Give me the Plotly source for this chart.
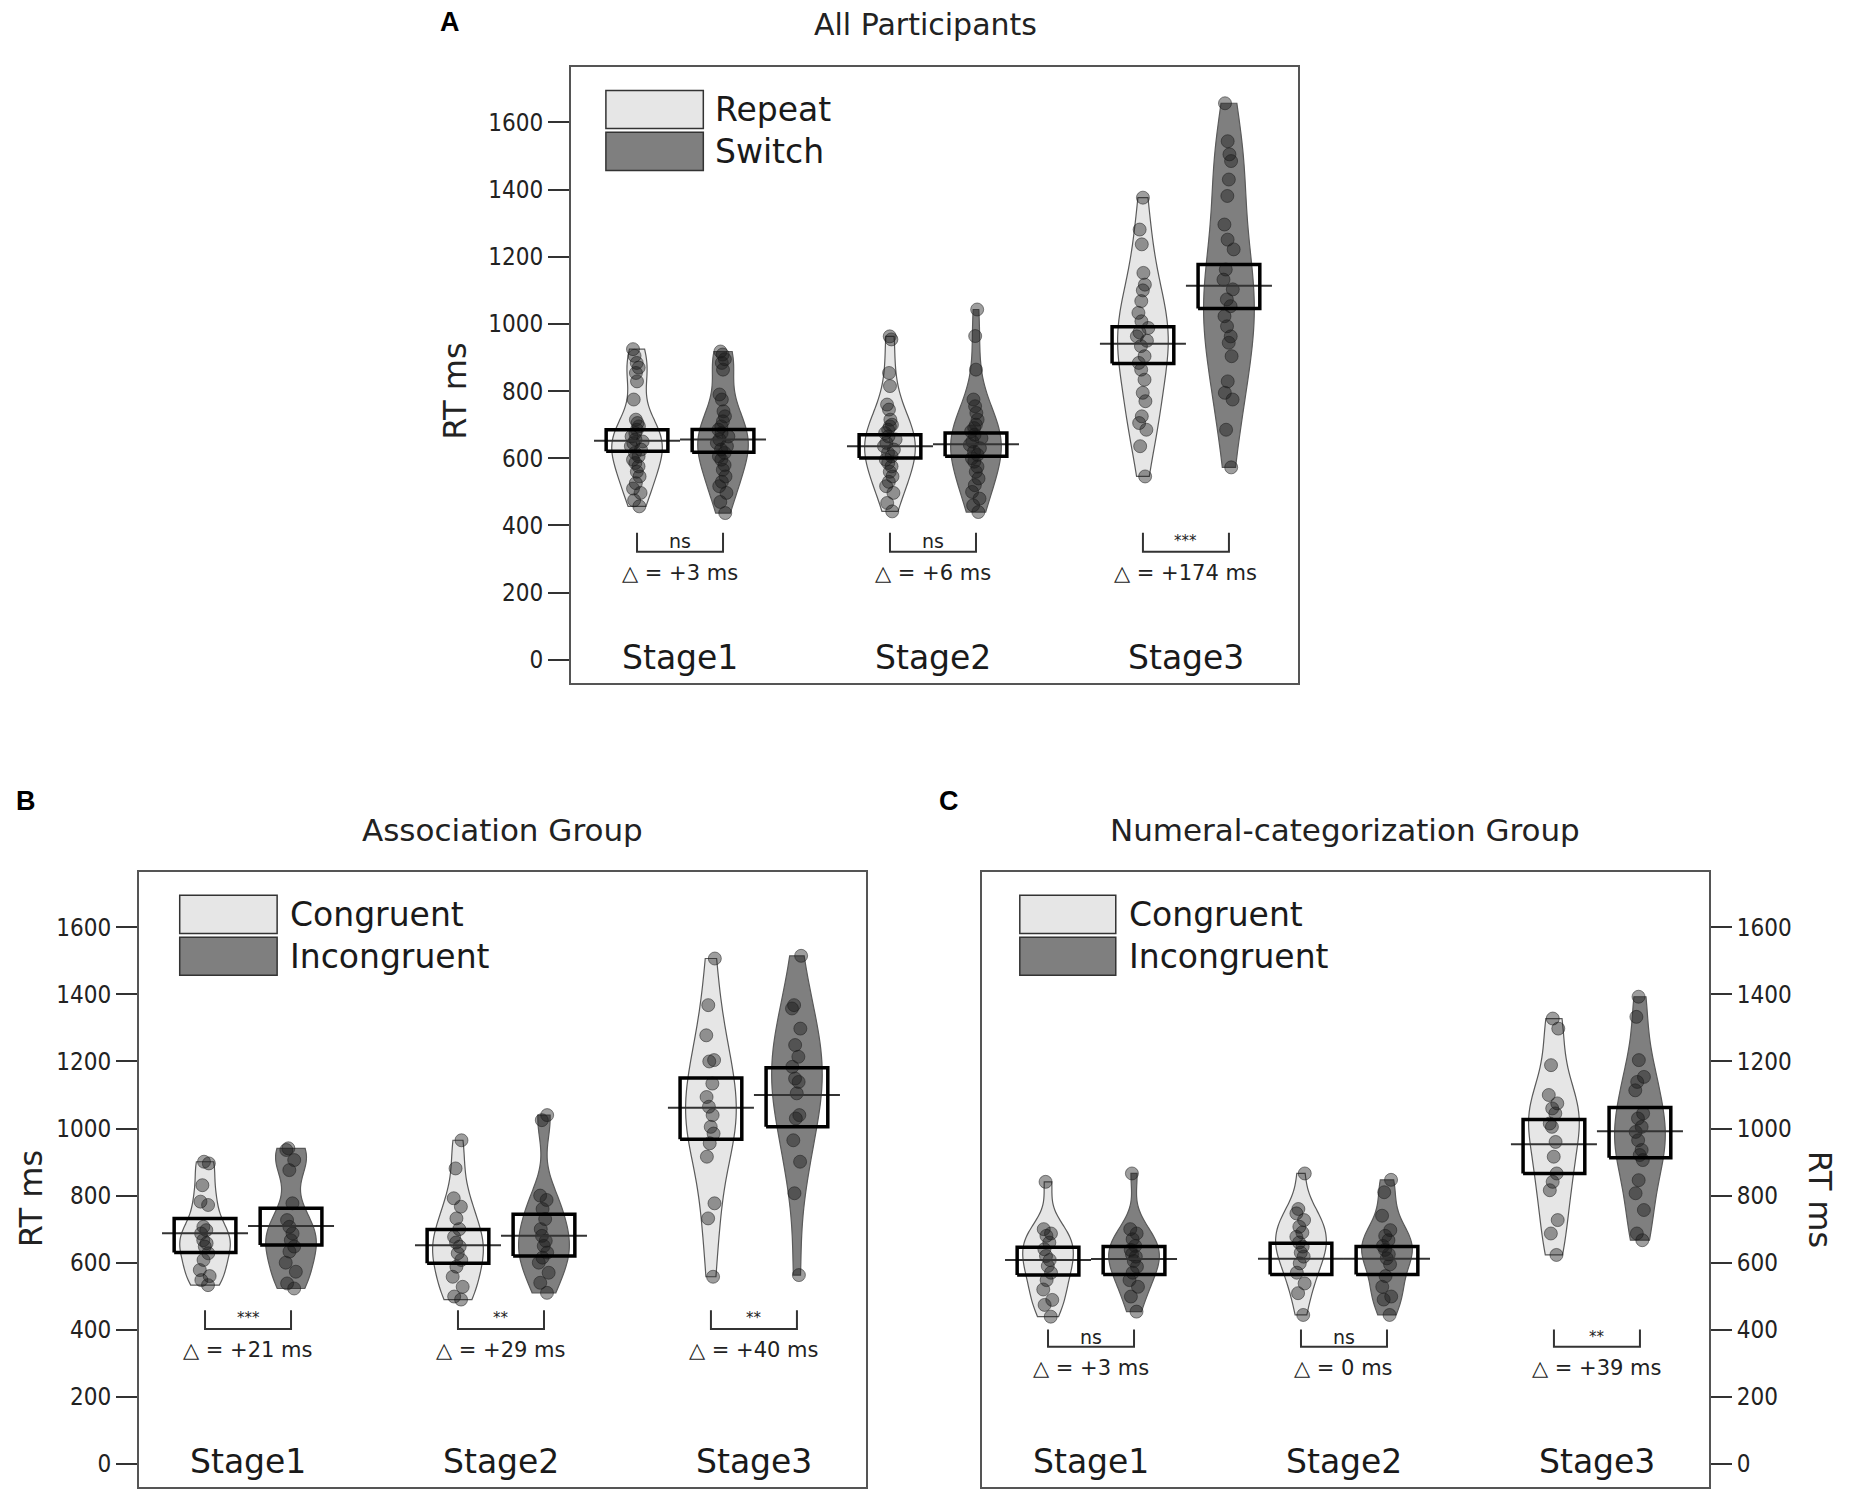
import plotly.graph_objects as go

stages = ["Stage1", "Stage2", "Stage3"]

# ---- Panel A: All Participants (Repeat vs Switch) ----
a_repeat = [
    [925, 905, 884, 870, 854, 829, 775, 715, 705, 695, 685, 675, 665, 656, 650, 645, 636,
     626, 616, 606, 596, 586, 576, 560, 546, 526, 510, 497, 475, 457],
    [963, 954, 854, 815, 760, 745, 715, 700, 695, 685, 675, 665, 656, 646, 636, 626, 616,
     606, 596, 586, 576, 560, 546, 530, 517, 497, 467, 442],
    [1376, 1281, 1237, 1152, 1117, 1100, 1068, 1033, 1008, 988, 975, 963, 950, 934, 904,
     884, 864, 834, 795, 770, 725, 705, 685, 636, 546],
]
a_switch = [
    [918, 909, 895, 884, 864, 790, 775, 740, 725, 710, 695, 685, 675, 665, 656, 646, 636,
     626, 616, 606, 596, 580, 566, 546, 530, 517, 497, 470, 437],
    [1043, 964, 864, 775, 755, 735, 715, 700, 690, 680, 670, 660, 650, 640, 630, 620, 610,
     600, 590, 575, 560, 540, 520, 500, 480, 460, 440],
    [1657, 1544, 1505, 1485, 1430, 1381, 1296, 1251, 1222, 1162, 1132, 1103, 1073, 1053,
     1023, 993, 963, 944, 904, 829, 795, 775, 685, 573],
]
a_repeat_mean = [652, 636, 941]
a_repeat_lo = [621, 601, 882]
a_repeat_hi = [685, 670, 992]
a_switch_mean = [656, 642, 1114]
a_switch_lo = [618, 606, 1046]
a_switch_hi = [686, 675, 1177]
a_sig = ["ns", "ns", "***"]
a_delta = ["+3", "+6", "+174"]

# ---- Panel B: Association Group (Congruent vs Incongruent) ----
b_con = [
    [901, 896, 831, 782, 772, 707, 697, 687, 667, 658, 648, 628, 608, 578, 560, 548, 533],
    [965, 881, 792, 767, 732, 700, 677, 660, 648, 628, 608, 588, 558, 528, 499, 490],
    [1507, 1368, 1278, 1204, 1200, 1134, 1094, 1065, 1040, 1005, 985, 956, 916, 777, 732, 558],
]
b_inc = [
    [941, 936, 906, 876, 777, 727, 707, 687, 667, 648, 633, 600, 573, 538, 523],
    [1040, 1025, 800, 787, 760, 730, 700, 680, 665, 650, 630, 615, 600, 570, 540, 510],
    [1515, 1368, 1358, 1298, 1249, 1214, 1184, 1149, 1139, 1105, 1040, 1030, 965, 901, 807, 563],
]
b_con_mean = [688, 652, 1062]
b_con_lo = [630, 598, 968]
b_con_hi = [732, 699, 1151]
b_inc_mean = [709, 680, 1100]
b_inc_lo = [653, 620, 1005]
b_inc_hi = [762, 744, 1181]
b_sig = ["***", "**", "**"]
b_delta = ["+21", "+29", "+40"]

# ---- Panel C: Numeral-categorization Group ----
c_con = [
    [841, 700, 687, 680, 660, 640, 620, 608, 590, 570, 548, 520, 489, 474, 439],
    [866, 760, 747, 727, 707, 690, 677, 660, 648, 630, 618, 598, 570, 538, 509, 444],
    [1328, 1298, 1189, 1100, 1075, 1060, 1045, 1015, 1005, 960, 916, 866, 841, 816, 727, 687, 623],
]
c_inc = [
    [866, 700, 687, 670, 650, 638, 625, 618, 605, 588, 570, 548, 528, 499, 454],
    [847, 810, 740, 697, 680, 667, 650, 638, 625, 613, 595, 560, 528, 499, 490, 444],
    [1393, 1333, 1204, 1154, 1139, 1114, 1045, 1030, 1005, 990, 965, 936, 921, 906, 846,
     807, 757, 687, 667],
]
c_con_mean = [608, 612, 953]
c_con_lo = [563, 565, 866]
c_con_hi = [646, 658, 1027]
c_inc_mean = [611, 612, 992]
c_inc_lo = [565, 565, 913]
c_inc_hi = [648, 648, 1063]
c_sig = ["ns", "ns", "**"]
c_delta = ["+3", "0", "+39"]

LIGHT = "#e6e6e6"
DARK = "#7f7f7f"
FONT = "DejaVu Sans"
OFF = 0.17      # half distance between the two violins of a stage
BOX_W = 0.122   # half width of the CI box
LINE_W = 0.17   # half width of the mean line

# page body adds an 8px margin, so the figure is laid out 16px smaller
W, H = 1837, 1486


def px(o):
    return (o - 8) / W


def py(o):
    return 1 - (o - 8) / H


fig = go.Figure()


def add_group(xa, ya, pos, vals, mean, lo, hi, fill):
    fig.add_trace(go.Violin(
        x=[pos] * len(vals), y=vals, xaxis=xa, yaxis=ya,
        width=0.2, scalemode="width", spanmode="hard",
        bandwidth=0.13 * (max(vals) - min(vals)),
        fillcolor=fill, line=dict(color="#5a5a5a", width=1.2),
        points="all", pointpos=0, jitter=0.25,
        marker=dict(size=13, color="rgba(25,25,25,0.42)",
                    line=dict(color="rgba(25,25,25,0.5)", width=1)),
        showlegend=False, hoverinfo="y",
    ))
    # mean line
    fig.add_trace(go.Scatter(
        x=[pos - LINE_W, pos + LINE_W], y=[mean, mean], xaxis=xa, yaxis=ya,
        mode="lines", line=dict(color="#333333", width=2), showlegend=False, hoverinfo="skip",
    ))
    # confidence box
    fig.add_trace(go.Scatter(
        x=[pos - BOX_W, pos + BOX_W, pos + BOX_W, pos - BOX_W, pos - BOX_W],
        y=[lo, lo, hi, hi, lo], xaxis=xa, yaxis=ya,
        mode="lines", line=dict(color="black", width=3.5), showlegend=False, hoverinfo="skip",
    ))


def draw_panel(xa, ya, left, right, lo_mean, lo_lo, lo_hi, hi_mean, hi_lo, hi_hi,
               sig, delta, br_top, br_bot):
    for i in range(3):
        add_group(xa, ya, i - OFF, left[i], lo_mean[i], lo_lo[i], lo_hi[i], LIGHT)
        add_group(xa, ya, i + OFF, right[i], hi_mean[i], hi_lo[i], hi_hi[i], DARK)
        # significance bracket
        fig.add_trace(go.Scatter(
            x=[i - OFF, i - OFF, i + OFF, i + OFF], y=[br_top, br_bot, br_bot, br_top],
            xaxis=xa, yaxis=ya, mode="lines", line=dict(color="#333333", width=2),
            showlegend=False, hoverinfo="skip",
        ))
        fig.add_annotation(x=i, y=(br_top + br_bot) / 2 + 4, xref=xa, yref=ya, text=sig[i],
                           showarrow=False, xanchor="center", yanchor="middle",
                           font=dict(family=FONT, size=19 if sig[i] == "ns" else 15, color="#222"))
        fig.add_annotation(x=i, y=br_bot - 62, xref=xa, yref=ya,
                           text="\u25b3 = " + delta[i] + " ms",
                           showarrow=False, xanchor="center", yanchor="middle",
                           font=dict(family=FONT, size=21, color="#222"))
        fig.add_annotation(x=i, y=8, xref=xa, yref=ya, text=stages[i], showarrow=False,
                           xanchor="center", yanchor="middle",
                           font=dict(family=FONT, size=33, color="#1a1a1a"))


draw_panel("x", "y", a_repeat, a_switch, a_repeat_mean, a_repeat_lo, a_repeat_hi,
           a_switch_mean, a_switch_lo, a_switch_hi, a_sig, a_delta, 378, 322)
draw_panel("x2", "y2", b_con, b_inc, b_con_mean, b_con_lo, b_con_hi,
           b_inc_mean, b_inc_lo, b_inc_hi, b_sig, b_delta, 458, 402)
draw_panel("x3", "y3", c_con, c_inc, c_con_mean, c_con_lo, c_con_hi,
           c_inc_mean, c_inc_lo, c_inc_hi, c_sig, c_delta, 401, 349)

x_common = dict(range=[-0.431, 2.443], showticklabels=False, ticks="", showgrid=False,
                zeroline=False, showline=True, mirror=True, linecolor="#555555", linewidth=2)
y_common = dict(range=[-69, 1765], tickvals=[0, 200, 400, 600, 800, 1000, 1200, 1400, 1600],
                ticks="outside", ticklen=21, tickwidth=2, tickcolor="#333333",
                tickfont=dict(family="DejaVu Sans Condensed, DejaVu Sans", size=24, color="#222"),
                showgrid=False, zeroline=False, showline=True, mirror=True,
                linecolor="#555555", linewidth=2)

fig.update_layout(
    width=W, height=H,
    margin=dict(l=0, r=0, t=0, b=0),
    paper_bgcolor="white", plot_bgcolor="white",
    violinmode="overlay",
    showlegend=False,
    xaxis=dict(domain=[px(571), px(1298)], anchor="y", **x_common),
    yaxis=dict(domain=[py(683), py(67)], anchor="x", **y_common),
    xaxis2=dict(domain=[px(139), px(866)], anchor="y2", **x_common),
    yaxis2=dict(domain=[py(1487), py(872)], anchor="x2", **y_common),
    xaxis3=dict(domain=[px(982), px(1709)], anchor="y3", **x_common),
    yaxis3=dict(domain=[py(1487), py(872)], anchor="x3", side="right", **y_common),
)

# legends drawn as boxes + labels inside each panel
legend_specs = [
    ("x", "y", 0.048, 0.182, 0.195, ["Repeat", "Switch"]),
    ("x2", "y2", 0.056, 0.190, 0.205, ["Congruent", "Incongruent"]),
    ("x3", "y3", 0.052, 0.184, 0.199, ["Congruent", "Incongruent"]),
]
for xa, ya, x0, x1, xt, labels in legend_specs:
    for k, (lab, col) in enumerate(zip(labels, [LIGHT, DARK])):
        y1 = 0.962 - k * 0.068
        y0 = y1 - 0.062
        fig.add_shape(type="rect", xref=xa + " domain", yref=ya + " domain",
                      x0=x0, x1=x1, y0=y0, y1=y1, fillcolor=col,
                      line=dict(color="#333333", width=1.5))
        fig.add_annotation(xref=xa + " domain", yref=ya + " domain", x=xt, y=(y0 + y1) / 2,
                           text=lab, showarrow=False, xanchor="left", yanchor="middle",
                           font=dict(family=FONT, size=33, color="#1a1a1a"))

# axis titles
rt_specs = [("x", "y", -0.16, 800, -90), ("x2", "y2", -0.148, 790, -90),
            ("x3", "y3", 1.153, 790, 90)]
for xa, ya, tx, ty, ang in rt_specs:
    fig.add_annotation(xref=xa + " domain", yref=ya, x=tx, y=ty, text="RT ms", textangle=ang,
                       showarrow=False, xanchor="center", yanchor="middle",
                       font=dict(family=FONT, size=32, color="#222"))

# panel titles and letters
fig.add_annotation(xref="paper", yref="paper", x=px(925), y=1.0, yshift=3,
                   text="All Participants", showarrow=False, xanchor="center", yanchor="top",
                   font=dict(family=FONT, size=30, color="#222"))
fig.add_annotation(xref="paper", yref="paper", x=px(450), y=1.0, yshift=3, text="<b>A</b>",
                   showarrow=False, xanchor="center", yanchor="top",
                   font=dict(family="Liberation Sans", size=27, color="black"))
titles = [
    (502, 830, "Association Group"),
    (1345, 830, "Numeral-categorization Group"),
]
for tx, ty, t in titles:
    fig.add_annotation(xref="paper", yref="paper", x=px(tx), y=py(ty), text=t, showarrow=False,
                       xanchor="center", yanchor="middle",
                       font=dict(family=FONT, size=31, color="#222"))
letters = [(26, 801, "B"), (949, 801, "C")]
for lx, ly, t in letters:
    fig.add_annotation(xref="paper", yref="paper", x=px(lx), y=py(ly), text="<b>" + t + "</b>",
                       showarrow=False, xanchor="center", yanchor="middle",
                       font=dict(family="Liberation Sans", size=27, color="black"))

fig.write_html("out.html")
